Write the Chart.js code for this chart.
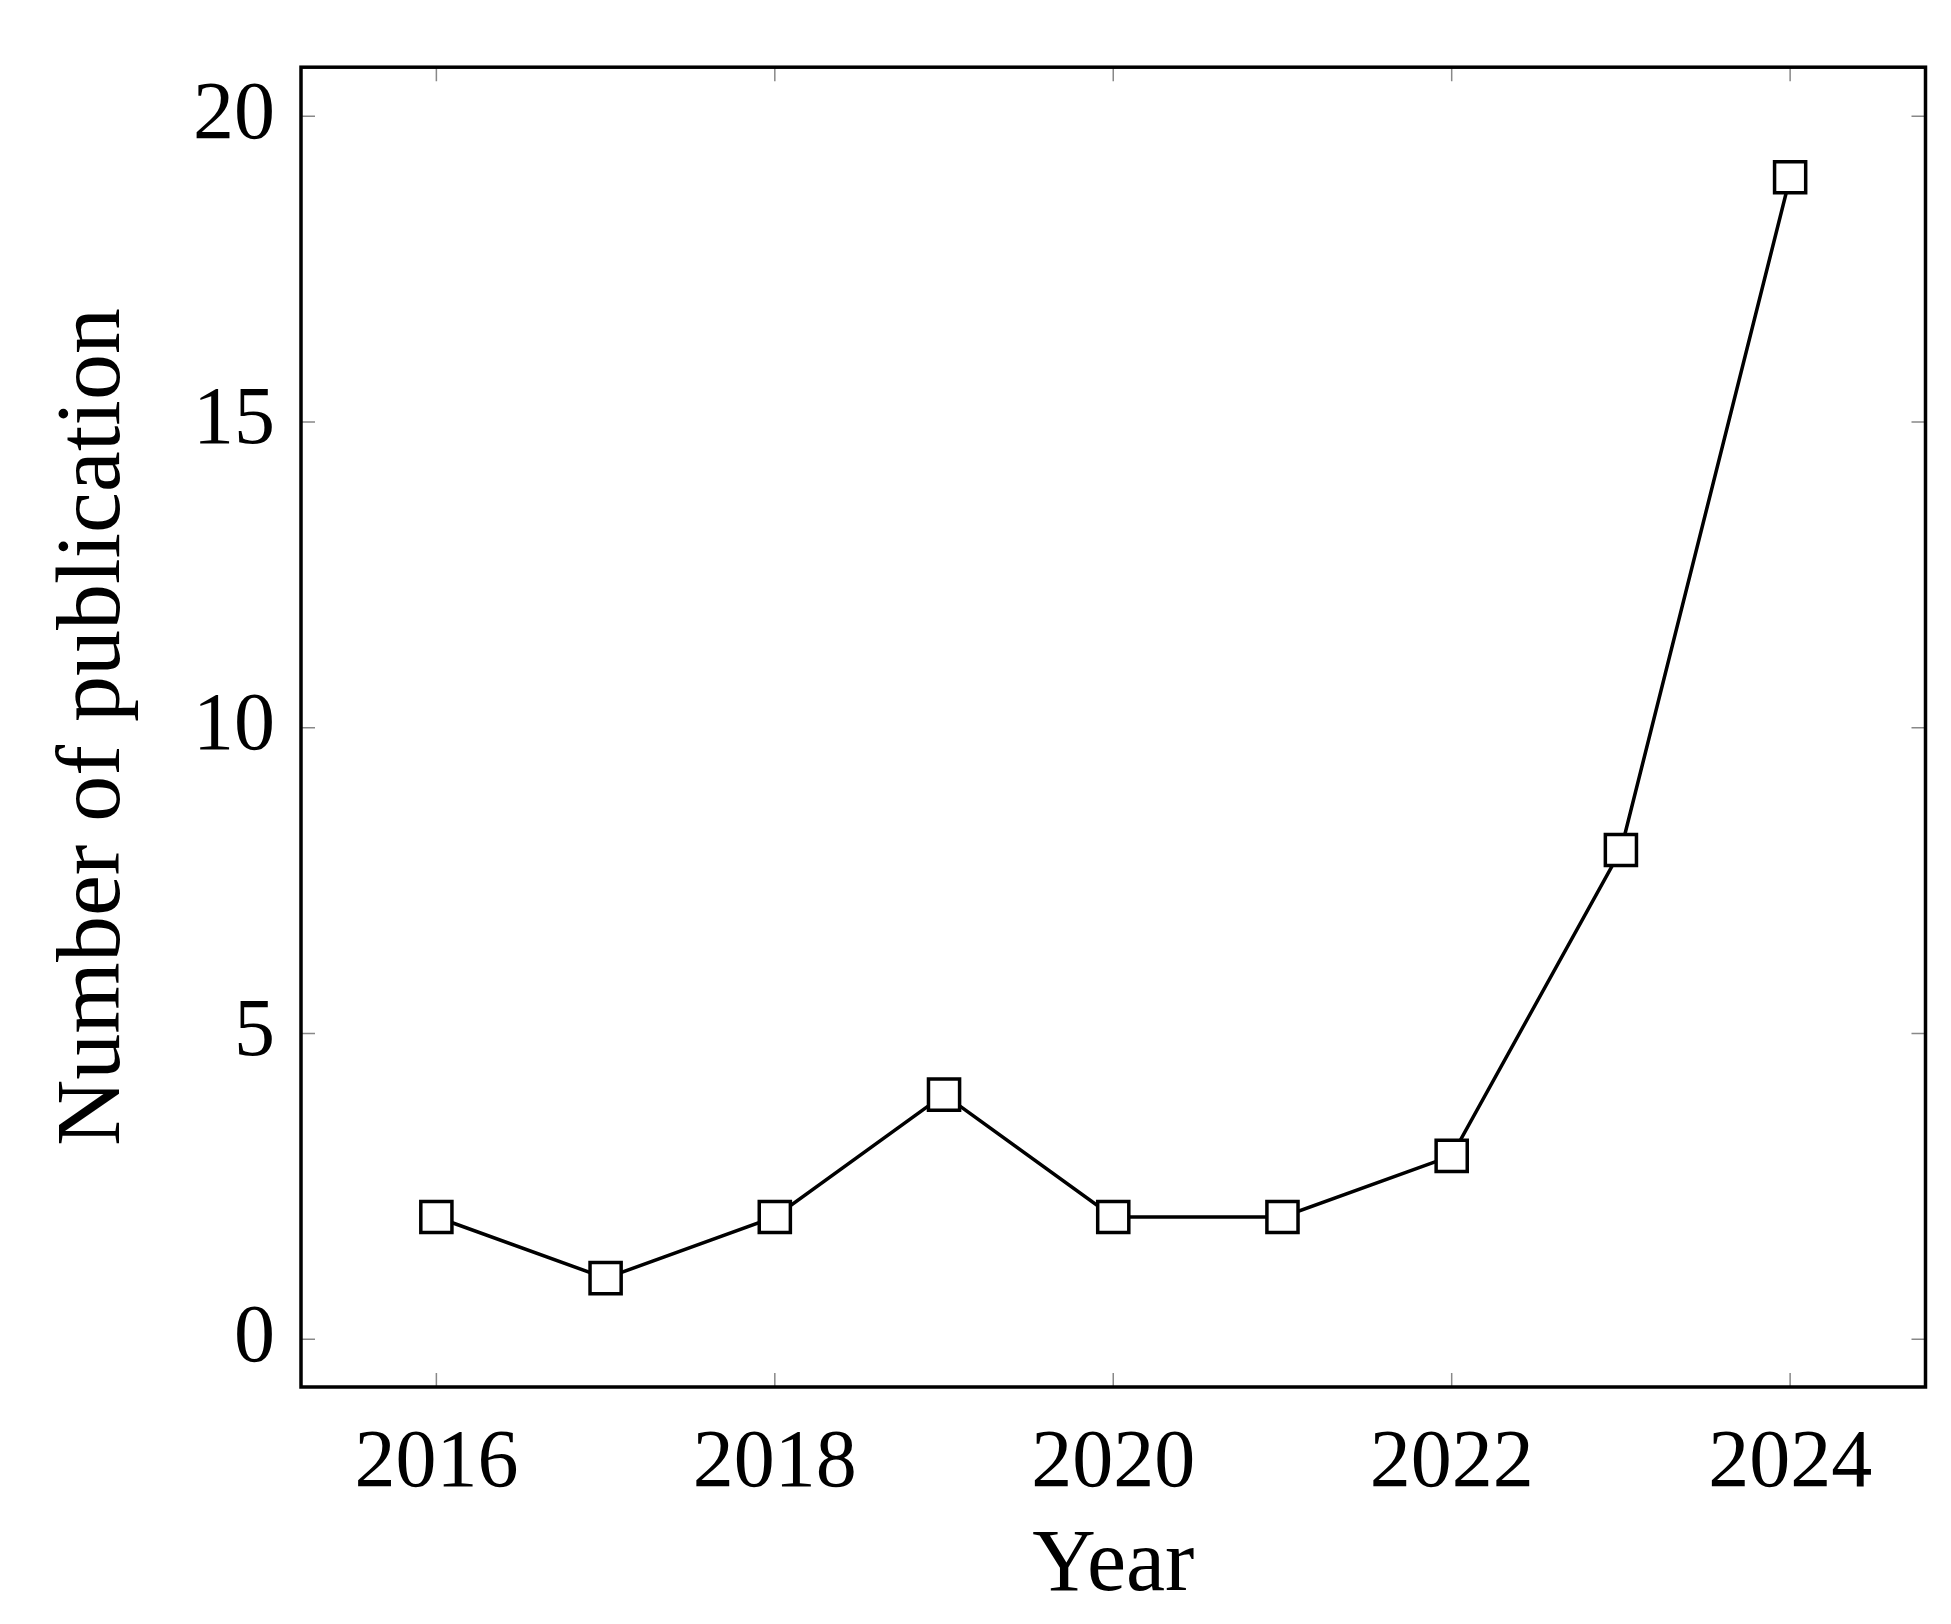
<!DOCTYPE html>
<html><head><meta charset="utf-8">
<script src="https://cdn.jsdelivr.net/npm/chart.js@4/dist/chart.umd.min.js"></script>
<style>html,body{margin:0;padding:0;background:#fff}#wrap{width:1951px;height:1624px}</style>
</head><body><div id="wrap"><canvas id="c" width="1951" height="1624"></canvas></div>
<script>
const years = [2016, 2017, 2018, 2019, 2020, 2021, 2022, 2023, 2024];
const publications = [2, 1, 2, 4, 2, 2, 3, 8, 19];
const xTicks = [2016, 2018, 2020, 2022, 2024];
const yTicks = [0, 5, 10, 15, 20];
const FONT = "'Liberation Serif', serif";

const frame = {
  id: 'frame',
  afterDatasetsDraw(chart) {
    const {ctx, chartArea: a, scales: {x, y}} = chart;
    ctx.save();
    ctx.strokeStyle = '#888'; ctx.lineWidth = 1.5;
    const L = 14;
    xTicks.forEach(v => { const p = x.getPixelForValue(v);
      ctx.beginPath(); ctx.moveTo(p, a.bottom); ctx.lineTo(p, a.bottom - L);
      ctx.moveTo(p, a.top); ctx.lineTo(p, a.top + L); ctx.stroke(); });
    yTicks.forEach(v => { const p = y.getPixelForValue(v);
      ctx.beginPath(); ctx.moveTo(a.left, p); ctx.lineTo(a.left + L, p);
      ctx.moveTo(a.right, p); ctx.lineTo(a.right - L, p); ctx.stroke(); });
    ctx.strokeStyle = '#000'; ctx.lineWidth = 3.5;
    ctx.strokeRect(a.left, a.top, a.right - a.left, a.bottom - a.top);
    ctx.restore();
  }
};

new Chart(document.getElementById('c'), {
  type: 'line',
  data: { datasets: [{
    data: years.map((yr, i) => ({x: yr, y: publications[i]})),
    borderColor: '#000', borderWidth: 3.5, tension: 0,
    pointStyle: 'rect', pointRadius: 22, pointBorderWidth: 3.5,
    pointBackgroundColor: '#fff', pointBorderColor: '#000'
  }]},
  options: {
    responsive: false, animation: false,
    layout: { padding: { top: 5, right: 24, left: 0, bottom: 0 } },
    plugins: { legend: {display: false}, tooltip: {enabled: false} },
    scales: {
      x: { type: 'linear', min: 2015.2, max: 2024.8,
        afterBuildTicks: s => { s.ticks = xTicks.map(v => ({value: v})); },
        afterFit: s => { s.height = 237; },
        grid: { display: false }, border: { display: false },
        ticks: { color: '#000', font: { family: FONT, size: 82 }, padding: 20, maxRotation: 0,
          callback: v => String(v) },
        title: { display: true, text: 'Year', color: '#000', font: { family: FONT, size: 88 }, padding: { top: 6 } } },
      y: { type: 'linear', min: -0.78, max: 20.8,
        afterBuildTicks: s => { s.ticks = yTicks.map(v => ({value: v})); },
        afterFit: s => { s.width = 301; },
        grid: { display: false }, border: { display: false },
        ticks: { color: '#000', font: { family: FONT, size: 82 }, padding: 18, callback: v => String(v) },
        title: { display: true, text: 'Number of publication', color: '#000', font: { family: FONT, size: 92 }, padding: { top: 40, bottom: 10 } } }
    }
  },
  plugins: [frame]
});
</script></body></html>
